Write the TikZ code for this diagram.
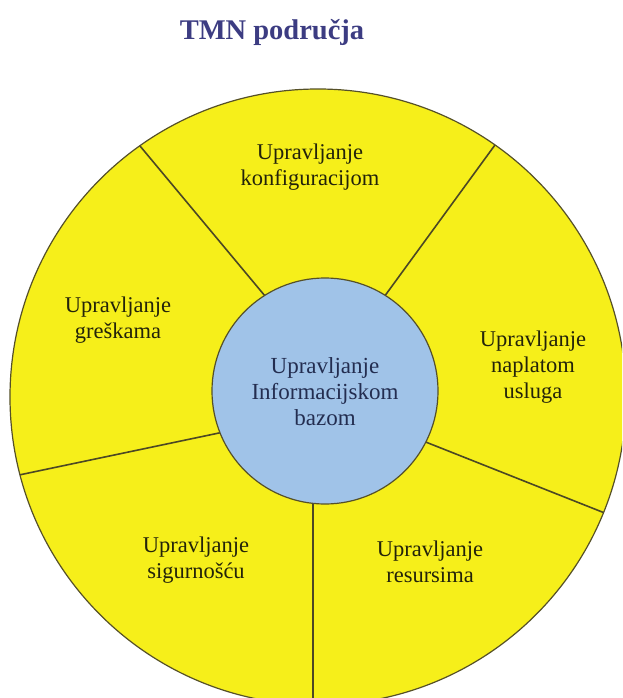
\documentclass[tikz,border=0pt]{standalone}
\usepackage{fontspec}
\setmainfont{Liberation Serif}
\definecolor{segyellow}{RGB}{246,239,26}
\definecolor{hubblue}{RGB}{160,195,232}
\definecolor{edgeolive}{RGB}{85,80,40}
\definecolor{labeltext}{RGB}{35,35,10}
\definecolor{hubtext}{RGB}{35,45,80}
\definecolor{titleblue}{RGB}{60,60,130}
\tikzset{
  seglabel/.style={align=center, text=labeltext, font=\fontsize{22.5}{26}\selectfont, inner sep=0pt},
  hublabel/.style={align=center, text=hubtext, font=\fontsize{23}{26}\selectfont, inner sep=0pt},
  divider/.style={draw=edgeolive!90!black, line width=1.6pt},
}
\begin{document}
\begin{tikzpicture}[x=1pt,y=-1pt]
\useasboundingbox (0,0) rectangle (622,698);
\clip (0,0) rectangle (622,698);
% outer ring
\coordinate (oc) at (318,397);
\fill[segyellow] (oc) circle[radius=308pt];
\begin{scope}
  \clip (oc) circle[radius=308pt];
  \coordinate (s1) at (275,308); \coordinate (e1) at (110,110);
  \coordinate (s2) at (376,308); \coordinate (e2) at (530,97);
  \coordinate (s3) at (238,429); \coordinate (e3) at (0,479);
  \coordinate (s4) at (408,435); \coordinate (e4) at (640,527);
  \coordinate (s5) at (313,480); \coordinate (e5) at (313,720);
  \draw[divider] (s1) -- (e1);
  \draw[divider] (s2) -- (e2);
  \draw[divider] (s3) -- (e3);
  \draw[divider] (s4) -- (e4);
  \draw[divider] (s5) -- (e5);
\end{scope}
\draw[edgeolive, line width=1.2pt] (oc) circle[radius=308pt];
% hub
\node[circle, minimum size=226pt, fill=hubblue, draw=edgeolive, line width=1.2pt, inner sep=0pt] (hub) at (325,391) {};
\node[hublabel] (hubtxt) at (325,392) {Upravljanje\\Informacijskom\\bazom};
% segment labels
\node[seglabel] (konf) at (310,167) {Upravljanje\\konfiguracijom};
\node[seglabel] (gres) at (118,320) {Upravljanje\\greškama};
\node[seglabel] (napl) at (533,367) {Upravljanje\\naplatom\\usluga};
\node[seglabel] (sigu) at (196,560) {Upravljanje\\sigurnošću};
\node[seglabel] (resu) at (430,562) {Upravljanje\\resursima};
% title
\node[anchor=base, text=titleblue, font=\fontsize{28.5}{32}\selectfont\bfseries, inner sep=0pt] (title) at (272,40) {TMN područja};
\end{tikzpicture}
\end{document}
